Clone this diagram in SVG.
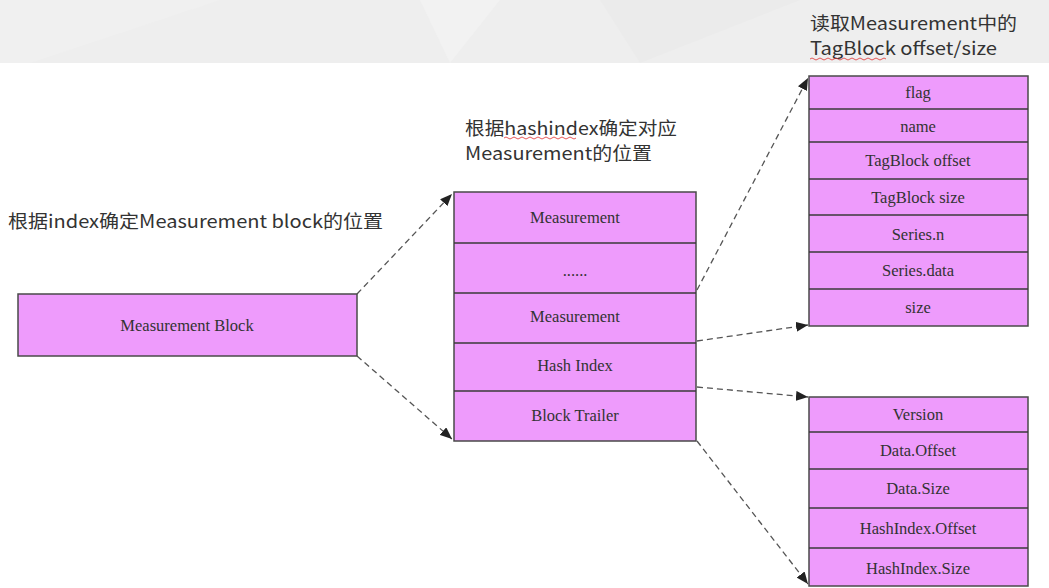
<svg xmlns="http://www.w3.org/2000/svg" width="1049" height="588" viewBox="0 0 1049 588">
<defs>
<style>
.box{fill:#ee9bfc;stroke:#4a4a4a;stroke-width:1.5}
.sep{stroke:#3a3a3a;stroke-width:1.5}
.lbl{font-family:"Liberation Serif","Times New Roman",serif;font-size:16.5px;fill:#333;text-anchor:middle}
.note{font-family:"Noto Sans CJK SC","Microsoft YaHei",sans-serif;font-size:18px;fill:#333}
.conn{fill:none;stroke:#555;stroke-width:1.3;stroke-dasharray:6 4}
.sq{fill:none;stroke:#e03030;stroke-width:0.8}
</style>
<marker id="ah" viewBox="0 0 12 10" refX="12" refY="5" markerWidth="12" markerHeight="10" markerUnits="userSpaceOnUse" orient="auto">
<path d="M0,0 L12,5 L0,10 z" fill="#222"/>
</marker>
</defs>
<rect x="0" y="0" width="1049" height="588" fill="#fff"/>
<g id="banner">
<rect x="0" y="0" width="1049" height="63" fill="#eeeeee"/>
<polygon points="0,0 220,0 30,63 0,63" fill="#f0f0f0"/>
<polygon points="420,0 500,0 450,63" fill="#f2f2f2"/>
<polygon points="600,0 800,0 640,63" fill="#ebebeb"/>
</g>
<g id="notes">
<text class="note" x="8" y="228" textLength="375" lengthAdjust="spacingAndGlyphs">根据index确定Measurement block的位置</text>
<text class="note" x="465" y="135" textLength="212" lengthAdjust="spacingAndGlyphs">根据hashindex确定对应</text>
<text class="note" x="465" y="160" textLength="187" lengthAdjust="spacingAndGlyphs">Measurement的位置</text>
<text class="note" x="810" y="30" textLength="207" lengthAdjust="spacingAndGlyphs">读取Measurement中的</text>
<text class="note" x="810" y="55" textLength="187" lengthAdjust="spacingAndGlyphs">TagBlock offset/size</text>
<path class="sq" d="M504,138 q2,-2 4,0 t4,0 t4,0 t4,0 t4,0 t4,0 t4,0 t4,0 t4,0 t4,0 t4,0 t4,0 t4,0 t4,0 t4,0 t4,0 t4,0 t4,0"/>
<path class="sq" d="M810,59 q2,-2 4,0 t4,0 t4,0 t4,0 t4,0 t4,0 t4,0 t4,0 t4,0 t4,0 t4,0 t4,0 t4,0 t4,0 t4,0 t4,0 t4,0 t4,0 t4,0"/>
</g>
<g id="connectors">
<line class="conn" x1="357" y1="294" x2="452" y2="194" marker-end="url(#ah)"/>
<line class="conn" x1="357" y1="356" x2="452" y2="439" marker-end="url(#ah)"/>
<line class="conn" x1="697" y1="290" x2="808" y2="78" marker-end="url(#ah)"/>
<line class="conn" x1="697" y1="341" x2="808" y2="325" marker-end="url(#ah)"/>
<line class="conn" x1="697" y1="387" x2="808" y2="397" marker-end="url(#ah)"/>
<line class="conn" x1="697" y1="441" x2="808" y2="584" marker-end="url(#ah)"/>
</g>
<g id="measurement-block">
<rect class="box" x="18" y="294" width="339" height="62"/>
<text class="lbl" x="187" y="331">Measurement Block</text>
</g>
<g id="block-layout">
<rect class="box" x="454" y="192" width="242" height="249"/>
<line class="sep" x1="454" y1="243" x2="696" y2="243"/>
<line class="sep" x1="454" y1="293" x2="696" y2="293"/>
<line class="sep" x1="454" y1="343" x2="696" y2="343"/>
<line class="sep" x1="454" y1="391" x2="696" y2="391"/>
<text class="lbl" x="575" y="223">Measurement</text>
<text class="lbl" x="575" y="276">......</text>
<text class="lbl" x="575" y="322">Measurement</text>
<text class="lbl" x="575" y="371">Hash Index</text>
<text class="lbl" x="575" y="421">Block Trailer</text>
</g>
<g id="measurement-fields">
<rect class="box" x="809" y="76" width="219" height="250"/>
<line class="sep" x1="809" y1="109" x2="1028" y2="109"/>
<line class="sep" x1="809" y1="142" x2="1028" y2="142"/>
<line class="sep" x1="809" y1="179" x2="1028" y2="179"/>
<line class="sep" x1="809" y1="215" x2="1028" y2="215"/>
<line class="sep" x1="809" y1="252" x2="1028" y2="252"/>
<line class="sep" x1="809" y1="289" x2="1028" y2="289"/>
<text class="lbl" x="918" y="98">flag</text>
<text class="lbl" x="918" y="132">name</text>
<text class="lbl" x="918" y="166">TagBlock offset</text>
<text class="lbl" x="918" y="203">TagBlock size</text>
<text class="lbl" x="918" y="240">Series.n</text>
<text class="lbl" x="918" y="276">Series.data</text>
<text class="lbl" x="918" y="313">size</text>
</g>
<g id="block-trailer-fields">
<rect class="box" x="809" y="397" width="219" height="189"/>
<line class="sep" x1="809" y1="432" x2="1028" y2="432"/>
<line class="sep" x1="809" y1="469" x2="1028" y2="469"/>
<line class="sep" x1="809" y1="508" x2="1028" y2="508"/>
<line class="sep" x1="809" y1="548" x2="1028" y2="548"/>
<text class="lbl" x="918" y="420">Version</text>
<text class="lbl" x="918" y="456">Data.Offset</text>
<text class="lbl" x="918" y="494">Data.Size</text>
<text class="lbl" x="918" y="534">HashIndex.Offset</text>
<text class="lbl" x="918" y="574">HashIndex.Size</text>
</g>
</svg>
